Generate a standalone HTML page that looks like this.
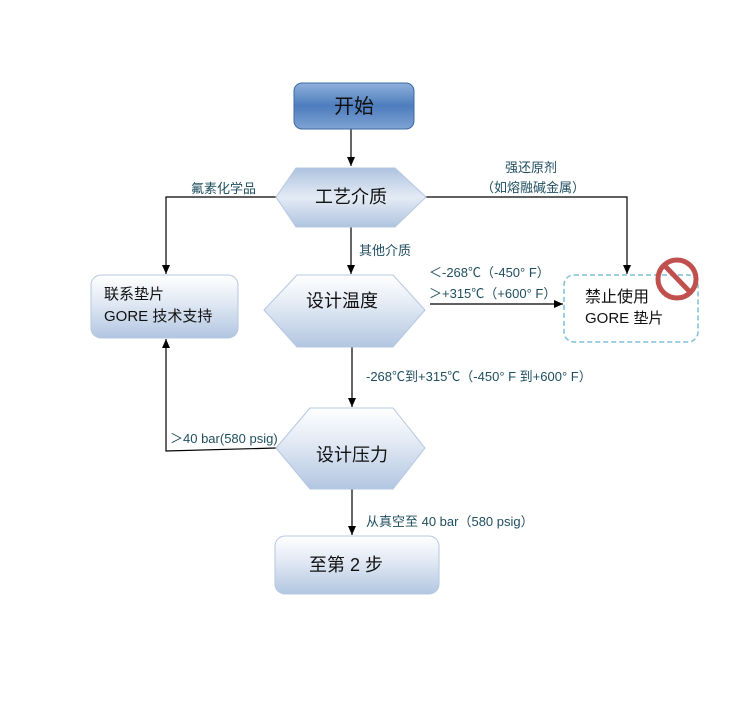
<!DOCTYPE html>
<html><head><meta charset="utf-8"><style>
html,body{margin:0;padding:0;background:#fff;}
svg text{font-family:"Liberation Sans","Noto Sans CJK SC",sans-serif;}
</style></head><body>
<svg width="752" height="703" viewBox="0 0 752 703" xmlns="http://www.w3.org/2000/svg">
<defs>
<linearGradient id="blue" x1="0" y1="0" x2="0" y2="1">
<stop offset="0" stop-color="#8fb0dc"/><stop offset="0.5" stop-color="#4d7dbd"/><stop offset="1" stop-color="#7fa3d3"/>
</linearGradient>
<linearGradient id="pale" x1="0" y1="0" x2="0" y2="1">
<stop offset="0" stop-color="#ffffff"/><stop offset="0.4" stop-color="#e4ebf5"/><stop offset="1" stop-color="#b2c6e1"/>
</linearGradient>
<linearGradient id="hexg" x1="0" y1="0" x2="0" y2="1">
<stop offset="0" stop-color="#aec3e0"/><stop offset="0.5" stop-color="#e4ebf5"/><stop offset="1" stop-color="#b0c4e0"/>
</linearGradient>
<marker id="ar" markerWidth="10" markerHeight="10" refX="9" refY="5" orient="auto" markerUnits="userSpaceOnUse">
<path d="M0,1 L9,5 L0,9 z" fill="#000"/>
</marker>
</defs>

<g stroke="#000" stroke-width="1.2" fill="none">
<line x1="351" y1="129" x2="351" y2="166" marker-end="url(#ar)"/>
<polyline points="276,197 166,197 166,274" marker-end="url(#ar)"/>
<polyline points="426,197 627,197 627,274" marker-end="url(#ar)"/>
<line x1="351" y1="227" x2="351" y2="274" marker-end="url(#ar)"/>
<line x1="430" y1="304" x2="563" y2="304" marker-end="url(#ar)"/>
<line x1="352" y1="347" x2="352" y2="407" marker-end="url(#ar)"/>
<polyline points="276,448 166,451 166,339" marker-end="url(#ar)"/>
<line x1="352" y1="489" x2="352" y2="535" marker-end="url(#ar)"/>
</g>

<rect x="294" y="83" width="120" height="46" rx="8" fill="url(#blue)" stroke="#3d6aa5" stroke-width="1"/>
<text x="354" y="113" font-size="20" text-anchor="middle" fill="#111">开始</text>

<polygon points="276,197 296,168 395,168 426,197 395,227 296,227" fill="url(#hexg)" stroke="#b5c7e0"/>
<text x="351" y="203" font-size="18" text-anchor="middle" fill="#111">工艺介质</text>

<polygon points="264,310 297,275 393,275 425,310 393,347 297,347" fill="url(#pale)" stroke="#b5c7e0"/>
<text x="342" y="307" font-size="18" text-anchor="middle" fill="#111">设计温度</text>

<polygon points="276,448 310,408 393,408 425,448 393,489 310,489" fill="url(#pale)" stroke="#b5c7e0"/>
<text x="352" y="461" font-size="18" text-anchor="middle" fill="#111">设计压力</text>

<rect x="91" y="275" width="147" height="63" rx="10" fill="url(#pale)" stroke="#b5c7e0"/>
<text x="104" y="299" font-size="15" fill="#111">联系垫片</text>
<text x="104" y="321" font-size="15" fill="#111">GORE 技术支持</text>

<rect x="275" y="536" width="164" height="58" rx="10" fill="url(#pale)" stroke="#b5c7e0"/>
<text x="346" y="571" font-size="18" text-anchor="middle" fill="#111">至第 2 步</text>

<rect x="564" y="275" width="134" height="67" rx="10" fill="#fff" stroke="#7fbfd6" stroke-width="1.5" stroke-dasharray="5,3"/>
<text x="585" y="302" font-size="16" fill="#111">禁止使用</text>
<text x="585" y="323" font-size="15" fill="#111">GORE 垫片</text>
<circle cx="677" cy="279" r="19" fill="none" stroke="#c0504d" stroke-width="5"/>
<line x1="665" y1="266" x2="690" y2="292" stroke="#c0504d" stroke-width="5"/>

<g fill="#1f4e5f" font-size="13">
<text x="191" y="193">氟素化学品</text>
<text x="505" y="172">强还原剂</text>
<text x="481" y="192">（如熔融碱金属）</text>
<text x="359" y="255">其他介质</text>
<text x="429" y="277">＜-268℃（-450° F）</text>
<text x="429" y="298">＞+315℃（+600° F）</text>
<text x="366" y="381">-268℃到+315℃（-450° F 到+600° F）</text>
<text x="170" y="443">＞40 bar(580 psig)</text>
<text x="366" y="526">从真空至 40 bar（580 psig）</text>
</g>
</svg>
</body></html>
